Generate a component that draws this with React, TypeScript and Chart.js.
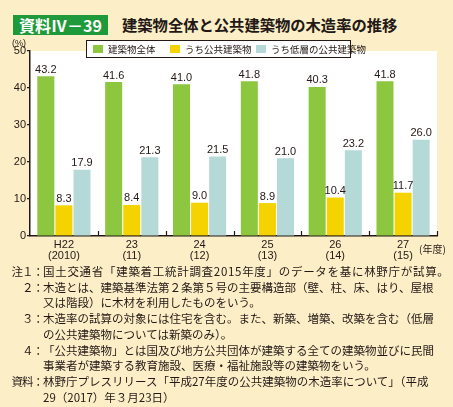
import React, { useEffect, useRef } from "react";
import { Chart, registerables } from "chart.js";

Chart.register(...registerables);

const categories: string[][] = [
  ["H22", "(2010)"],
  ["23", "(11)"],
  ["24", "(12)"],
  ["25", "(13)"],
  ["26", "(14)"],
  ["27", "(15)"],
];
const seriesNames = ["建築物全体", "うち公共建築物", "うち低層の公共建築物"];
const allBuildings = [43.2, 41.6, 41.0, 41.8, 40.3, 41.8];
const publicBuildings = [8.3, 8.4, 9.0, 8.9, 10.4, 11.7];
const lowRisePublic = [17.9, 21.3, 21.5, 21.0, 23.2, 26.0];
const yTicks = [0, 10, 20, 30, 40, 50];
const colors = ["#8DC63F", "#F5D300", "#B5D9D7"];

const notes: { label: string; lines: string[]; spacing?: number }[] = [
  { label: "注１：", lines: ["国土交通省「建築着工統計調査2015年度」のデータを基に林野庁が試算。"], spacing: 0.7 },
  { label: "２：", lines: ["木造とは、建築基準法第２条第５号の主要構造部（壁、柱、床、はり、屋根", "又は階段）に木材を利用したものをいう。"] },
  { label: "３：", lines: ["木造率の試算の対象には住宅を含む。また、新築、増築、改築を含む（低層", "の公共建築物については新築のみ）。"] },
  { label: "４：", lines: ["「公共建築物」とは国及び地方公共団体が建築する全ての建築物並びに民間", "事業者が建築する教育施設、医療・福祉施設等の建築物をいう。"] },
  { label: "資料：", lines: ["林野庁プレスリリース「平成27年度の公共建築物の木造率について」（平成", "29（2017）年３月23日）"] },
];

const INK = "#231815";
const JP = "'Noto Sans CJK JP', 'Noto Sans', sans-serif";
const LAT = "'Liberation Sans', Arial, sans-serif";

const plotBg = {
  id: "plotBg",
  beforeDraw(chart: any) {
    const { ctx, chartArea } = chart;
    ctx.save();
    ctx.fillStyle = "#FFFFFF";
    ctx.fillRect(chartArea.left, chartArea.top, chartArea.right - chartArea.left, chartArea.bottom - chartArea.top);
    ctx.restore();
  },
};

const innerTicks = {
  id: "innerTicks",
  afterDraw(chart: any) {
    const { ctx, chartArea } = chart;
    const n = categories.length;
    const w = (chartArea.right - chartArea.left) / n;
    ctx.save();
    ctx.strokeStyle = INK;
    ctx.lineWidth = 1.2;
    for (let i = 1; i <= n; i++) {
      const x = Math.round(chartArea.left + i * w) + 0.5;
      ctx.beginPath();
      ctx.moveTo(x, chartArea.bottom);
      ctx.lineTo(x, chartArea.bottom - 5);
      ctx.stroke();
    }
    ctx.restore();
  },
};

const valueLabels = {
  id: "valueLabels",
  afterDatasetsDraw(chart: any) {
    const { ctx } = chart;
    ctx.save();
    ctx.fillStyle = INK;
    ctx.font = `11px ${LAT}`;
    ctx.textAlign = "center";
    ctx.textBaseline = "bottom";
    chart.data.datasets.forEach((ds: any, di: number) => {
      const meta = chart.getDatasetMeta(di);
      meta.data.forEach((el: any, i: number) => {
        ctx.fillText(Number(ds.data[i]).toFixed(1), el.x, el.y - 1);
      });
    });
    ctx.restore();
  },
};

function BarChart() {
  const ref = useRef<HTMLCanvasElement>(null);
  useEffect(() => {
    if (!ref.current) return;
    const chart = new Chart(ref.current, {
      type: "bar",
      data: {
        labels: categories,
        datasets: [
          { label: seriesNames[0], data: allBuildings, backgroundColor: colors[0] },
          { label: seriesNames[1], data: publicBuildings, backgroundColor: colors[1] },
          { label: seriesNames[2], data: lowRisePublic, backgroundColor: colors[2] },
        ],
      },
      options: {
        responsive: false,
        animation: false,
        devicePixelRatio: 1,
        layout: { padding: { left: 0, right: 16, top: 15, bottom: 0 } },
        datasets: { bar: { categoryPercentage: 0.8, barPercentage: 0.94 } },
        plugins: { legend: { display: false }, tooltip: { enabled: false } },
        scales: {
          x: {
            grid: { display: true, drawOnChartArea: false, drawTicks: false },
            border: { display: true, color: INK, width: 1.5 },
            ticks: { color: INK, font: { size: 11, family: LAT, lineHeight: 1.0 }, padding: 3, maxRotation: 0, autoSkip: false },
            afterFit: (s: any) => { s.height = 32; },
          },
          y: {
            min: 0,
            max: 50,
            afterBuildTicks: (s: any) => { s.ticks = yTicks.map((v) => ({ value: v })); },
            grid: { display: true, drawOnChartArea: false, drawTicks: true, tickLength: 3, color: INK, lineWidth: 1.2 },
            border: { display: true, color: INK, width: 1.5 },
            ticks: { color: INK, font: { size: 11, family: LAT }, padding: 1 },
            afterFit: (s: any) => { s.width = 30; },
          },
        },
      },
      plugins: [plotBg, innerTicks, valueLabels],
    });
    return () => chart.destroy();
  }, []);
  return <canvas ref={ref} width={453} height={232} style={{ position: "absolute", left: 0, top: 36, width: 453, height: 232 }} />;
}

export default function App() {
  return (
    <div style={{ position: "absolute", left: 0, top: 0, width: 453, height: 407, background: "#FCEFC8", overflow: "hidden", fontFamily: JP, color: INK }}>
      <div style={{ position: "absolute", left: 13, top: 15, width: 95, height: 20, background: "#1F9A3A", color: "#fff", fontWeight: "bold", fontSize: 16, lineHeight: "20px", textAlign: "center", whiteSpace: "nowrap", fontFamily: JP }}>
        資料Ⅳ－39
      </div>
      <div style={{ position: "absolute", left: 122, top: 14, fontWeight: "bold", fontSize: 15.3, lineHeight: "20px", whiteSpace: "nowrap", color: "#231815" }}>
        建築物全体と公共建築物の木造率の推移
      </div>
      <BarChart />
      <div style={{ position: "absolute", left: 12, top: 38, fontSize: 9, lineHeight: "10px", fontFamily: LAT }}>(%)</div>
      <div style={{ position: "absolute", left: 86, top: 40, width: 263, height: 16, background: "#fff", border: `1.5px solid ${INK}`, fontSize: 9.5, lineHeight: "16px", whiteSpace: "nowrap" }}>
        {seriesNames.map((n, i) => (
          <div key={n} style={{ position: "absolute", left: [6, 83, 169][i], top: 0, display: "flex", alignItems: "center", height: 16 }}>
            <span style={{ display: "inline-block", width: 10, height: 8, background: colors[i], marginRight: 5 }} />
            <span>{n}</span>
          </div>
        ))}
      </div>
      <div style={{ position: "absolute", left: 419, top: 243, fontSize: 10, lineHeight: "12px", whiteSpace: "nowrap" }}>(年度)</div>
      <div style={{ position: "absolute", left: 0, top: 264, fontSize: 11.5, lineHeight: "15.7px" }}>
        {notes.map((nt) =>
          nt.lines.map((ln, j) => (
            <div key={nt.label + j} style={{ display: "flex", whiteSpace: "nowrap" }}>
              <div style={{ width: 43, paddingRight: 0, textAlign: "right", flexShrink: 0, letterSpacing: -1 }}>{j === 0 ? nt.label : ""}</div>
              <div style={{ letterSpacing: j === 0 && nt.spacing ? nt.spacing : 0 }}>{ln}</div>
            </div>
          ))
        )}
      </div>
    </div>
  );
}
